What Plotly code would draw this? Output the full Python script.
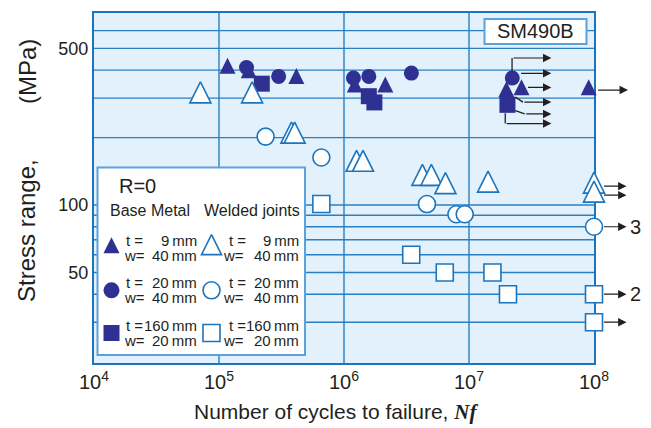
import math
import plotly.graph_objects as go

# ---------------- data ----------------
# Base metal (filled symbols)
bm_t9_N = [1.17e5, 1.73e5, 4.16e5, 1.22e6, 2.14e6, 1.99e7, 2.63e7, 9.07e7]
bm_t9_S = [407, 389, 366, 336, 336, 320, 326, 326]
bm_t20_N = [1.66e5, 3.0e5, 1.19e6, 1.58e6, 3.46e6, 2.22e7]
bm_t20_S = [411, 375, 369, 375, 388, 369]
bm_t160_N = [2.2e5, 1.58e6, 1.75e6, 2.03e7]
bm_t160_S = [348, 306, 287, 280]
# Welded joints (open symbols)
wj_t9_N = [7.1e4, 1.84e5, 3.8e5, 4.03e5, 1.26e6, 1.42e6, 4.24e6, 5.0e6, 6.48e6, 1.42e7, 1.0e8, 1.0e8]
wj_t9_S = [307, 307, 203, 203, 152, 152, 131.5, 131.5, 120.8, 122.7, 121.4, 110.7]
wj_t20_N = [2.36e5, 6.59e5, 4.61e6, 7.93e6, 9.24e6, 1.0e8]
wj_t20_S = [202, 163, 101, 91, 91, 80]
wj_t160_N = [6.59e5, 3.45e6, 6.4e6, 1.54e7, 2.05e7, 1.0e8, 1.0e8]
wj_t160_S = [101, 60, 50, 50, 40, 40, 30]

# run-out leader paths (N, S) ; last segment carries an arrow head
runout_paths = [
    [(2.21e7, 395), (2.21e7, 453), (4.56e7, 453)],
    [(2.54e7, 387), (4.56e7, 387)],
    [(2.88e7, 335), (4.56e7, 335)],
    [(2.35e7, 303), (2.70e7, 288), (4.56e7, 288)],
    [(2.35e7, 264), (2.79e7, 255), (4.56e7, 255)],
    [(1.95e7, 257), (1.95e7, 231), (4.56e7, 231)],
    [(1.05e8, 326), (1.87e8, 326)],
    [(1.17e8, 121.4), (1.82e8, 121.4)],
    [(1.17e8, 110.7), (1.82e8, 110.7)],
    [(1.17e8, 80), (1.82e8, 80)],
    [(1.17e8, 40), (1.82e8, 40)],
    [(1.17e8, 30), (1.82e8, 30)],
]
runout_label_text = ["3", "2"]
runout_label_N = [2.16e8, 2.16e8]
runout_label_S = [80, 40]

x_tick_vals = [1e4, 1e5, 1e6, 1e7, 1e8]
x_tick_text = ["10<sup>4</sup>", "10<sup>5</sup>", "10<sup>6</sup>", "10<sup>7</sup>", "10<sup>8</sup>"]
y_tick_vals = [50, 100, 500]
y_tick_text = ["50", "100", "500"]
x_grid = [1e5, 1e6, 1e7]
y_grid = [30, 40, 50, 60, 70, 80, 90, 100, 200, 300, 400, 500, 600]

legend_t = ["9", "20", "160"]
legend_w = ["40", "40", "20"]

# ---------------- layout constants ----------------
W, H = 651, 428
ML, MR, MT, MB = 94, 57, 13, 65
PW, PH = W - ML - MR, H - MT - MB
XR = [4.0, 8.0]
YR = [1.295, 2.857]

NAVY = "#2e3192"
BLUE = "#1c75bc"
GRID = "#2a7fc3"
BG = "#e2f1fb"
LBLUE = "#5aa2dc"
INK = "#231f20"
FONT = "Arial, 'Liberation Sans', sans-serif"


def xp(n):
    return (math.log10(n) - XR[0]) / (XR[1] - XR[0])


def yp(s):
    return (math.log10(s) - YR[0]) / (YR[1] - YR[0])


def pxp(px):
    return (px - ML) / PW


def pyp(py):
    return (MT + PH - py) / PH


def tri(size):
    # upright triangle centred on its centroid (width == height == size)
    return dict(symbol="arrow-down", angle=180, standoff=size * 2 / 3, size=size)


def label(x, y, text, size, xanchor="center", **kw):
    return dict(x=x, y=y, xref="paper", yref="paper", text=text, showarrow=False,
                xanchor=xanchor, yanchor="middle",
                font=dict(size=size, color=INK, family=FONT), **kw)


fig = go.Figure()

filled_line = dict(width=0)
open_line = dict(color=BLUE, width=1.6)

fig.add_trace(go.Scatter(x=bm_t9_N, y=bm_t9_S, mode="markers", cliponaxis=False,
                         marker=dict(color=NAVY, line=filled_line, **tri(16))))
fig.add_trace(go.Scatter(x=bm_t20_N, y=bm_t20_S, mode="markers", cliponaxis=False,
                         marker=dict(symbol="circle", size=15, color=NAVY, line=filled_line)))
fig.add_trace(go.Scatter(x=bm_t160_N, y=bm_t160_S, mode="markers", cliponaxis=False,
                         marker=dict(symbol="square", size=16, color=NAVY, line=filled_line)))
fig.add_trace(go.Scatter(x=wj_t9_N, y=wj_t9_S, mode="markers", cliponaxis=False,
                         marker=dict(color="white", line=open_line, **tri(21))))
fig.add_trace(go.Scatter(x=wj_t20_N, y=wj_t20_S, mode="markers", cliponaxis=False,
                         marker=dict(symbol="circle", size=17, color="white", line=open_line)))
fig.add_trace(go.Scatter(x=wj_t160_N, y=wj_t160_S, mode="markers", cliponaxis=False,
                         marker=dict(symbol="square", size=17, color="white", line=open_line)))

# ---------------- legend symbols on an overlay axis (0..1 == plot area) ----------------
leg_rows_py = [248, 290.3, 333]
leg_sym_px = [111.5, 211.5]
fig.add_trace(go.Scatter(x=[pxp(leg_sym_px[0])], y=[pyp(leg_rows_py[0])], xaxis="x2", yaxis="y2",
                         mode="markers", cliponaxis=False,
                         marker=dict(color=NAVY, line=filled_line, **tri(16))))
fig.add_trace(go.Scatter(x=[pxp(leg_sym_px[0])], y=[pyp(leg_rows_py[1])], xaxis="x2", yaxis="y2",
                         mode="markers", cliponaxis=False,
                         marker=dict(symbol="circle", size=16, color=NAVY, line=filled_line)))
fig.add_trace(go.Scatter(x=[pxp(leg_sym_px[0])], y=[pyp(leg_rows_py[2])], xaxis="x2", yaxis="y2",
                         mode="markers", cliponaxis=False,
                         marker=dict(symbol="square", size=16, color=NAVY, line=filled_line)))
fig.add_trace(go.Scatter(x=[pxp(leg_sym_px[1])], y=[pyp(leg_rows_py[0])], xaxis="x2", yaxis="y2",
                         mode="markers", cliponaxis=False,
                         marker=dict(color="white", line=open_line, **tri(20))))
fig.add_trace(go.Scatter(x=[pxp(leg_sym_px[1])], y=[pyp(leg_rows_py[1])], xaxis="x2", yaxis="y2",
                         mode="markers", cliponaxis=False,
                         marker=dict(symbol="circle", size=17, color="white", line=open_line)))
fig.add_trace(go.Scatter(x=[pxp(leg_sym_px[1])], y=[pyp(leg_rows_py[2])], xaxis="x2", yaxis="y2",
                         mode="markers", cliponaxis=False,
                         marker=dict(symbol="square", size=17, color="white", line=open_line)))

# ---------------- shapes ----------------
shapes = []
for v in x_grid:
    shapes.append(dict(type="line", xref="x", yref="y domain", x0=v, x1=v, y0=0, y1=1,
                       layer="below", line=dict(color=GRID, width=1.4)))
for v in y_grid:
    shapes.append(dict(type="line", xref="x domain", yref="y", x0=0, x1=1, y0=v, y1=v,
                       layer="below", line=dict(color=GRID, width=1.4)))
# legend box
shapes.append(dict(type="rect", xref="x domain", yref="y domain",
                   x0=pxp(97.5), x1=pxp(305), y0=pyp(355), y1=pyp(167.5),
                   layer="below", fillcolor="white", line=dict(color=LBLUE, width=2)))
# SM490B box
shapes.append(dict(type="rect", xref="x domain", yref="y domain",
                   x0=pxp(484.5), x1=pxp(586.5), y0=pyp(44), y1=pyp(19),
                   layer="below", fillcolor="white", line=dict(color=LBLUE, width=2)))

annotations = []
ARROW = "#231f20"
for path in runout_paths:
    pts = [(xp(n), yp(s)) for n, s in path]
    for (x0, y0), (x1, y1) in zip(pts[:-2], pts[1:-1]):
        shapes.append(dict(type="line", xref="paper", yref="paper", x0=x0, y0=y0, x1=x1, y1=y1,
                           layer="above", line=dict(color=ARROW, width=1.3)))
    (tx, ty), (hx, hy) = pts[-2], pts[-1]
    annotations.append(dict(x=hx, y=hy, xref="paper", yref="paper", text="",
                            showarrow=True, axref="pixel", ayref="pixel",
                            ax=(tx - hx) * PW, ay=-(ty - hy) * PH,
                            arrowhead=2, arrowsize=1.4, arrowwidth=1.2, arrowcolor=ARROW,
                            standoff=0, startstandoff=0))
for t, n, s in zip(runout_label_text, runout_label_N, runout_label_S):
    annotations.append(label(xp(n), yp(s), t, 20))

# SM490B text
annotations.append(label(pxp(535.5), pyp(31.5), "SM490B", 20))
# legend texts
annotations.append(label(pxp(137.5), pyp(186.5), "R=0", 20))
annotations.append(label(pxp(149.5), pyp(210.5), "Base Metal", 16))
annotations.append(label(pxp(251.5), pyp(210.5), "Welded joints", 16))
col_label_px = [(124, 122), (227, 221)]
col_value_px = [198.5, 300.5]
for c in range(2):
    for r in range(3):
        ty_ = leg_rows_py[r] - 7.5
        wy_ = leg_rows_py[r] + 7.5
        annotations.append(label(pxp(col_label_px[c][0]), pyp(ty_), "t =", 15, xanchor="left"))
        annotations.append(label(pxp(col_label_px[c][1]), pyp(wy_), "w=", 15, xanchor="left"))
        annotations.append(label(pxp(col_value_px[c]), pyp(ty_), legend_t[r] + "\u2009mm", 15,
                                 xanchor="right"))
        annotations.append(label(pxp(col_value_px[c]), pyp(wy_), legend_w[r] + "\u2009mm", 15,
                                 xanchor="right"))

# axis titles
annotations.append(label(pxp(27), pyp(231), "Stress range,", 24, textangle=-90))
annotations.append(label(pxp(27), pyp(72), "(MPa)", 24, textangle=-90))
annotations.append(label(pxp(336), pyp(412),
                         "Number of cycles to failure, <span style=\"font-family:'Liberation Serif', 'Times New Roman', serif\"><b><i>Nf</i></b></span>",
                         21))

axis_common = dict(showgrid=False, zeroline=False, showline=True, mirror=True,
                   linecolor=BLUE, linewidth=2, ticks="", layer="below traces")

fig.update_layout(
    width=W, height=H,
    margin=dict(l=ML, r=MR, t=MT, b=MB, pad=0),
    paper_bgcolor="white", plot_bgcolor=BG,
    showlegend=False,
    font=dict(family=FONT, color=INK),
    xaxis=dict(type="log", range=XR, tickvals=x_tick_vals, ticktext=x_tick_text,
               tickfont=dict(size=20, color=INK, family=FONT), **axis_common),
    yaxis=dict(type="log", range=YR, tickvals=y_tick_vals, ticktext=y_tick_text,
               tickfont=dict(size=18, color=INK, family=FONT), **axis_common),
    xaxis2=dict(overlaying="x", range=[0, 1], visible=False, fixedrange=True),
    yaxis2=dict(overlaying="y", range=[0, 1], visible=False, fixedrange=True),
    shapes=shapes,
    annotations=annotations,
)

fig.write_html("out.html", config={"displayModeBar": False},
               post_script="document.body.style.margin='0px';")
